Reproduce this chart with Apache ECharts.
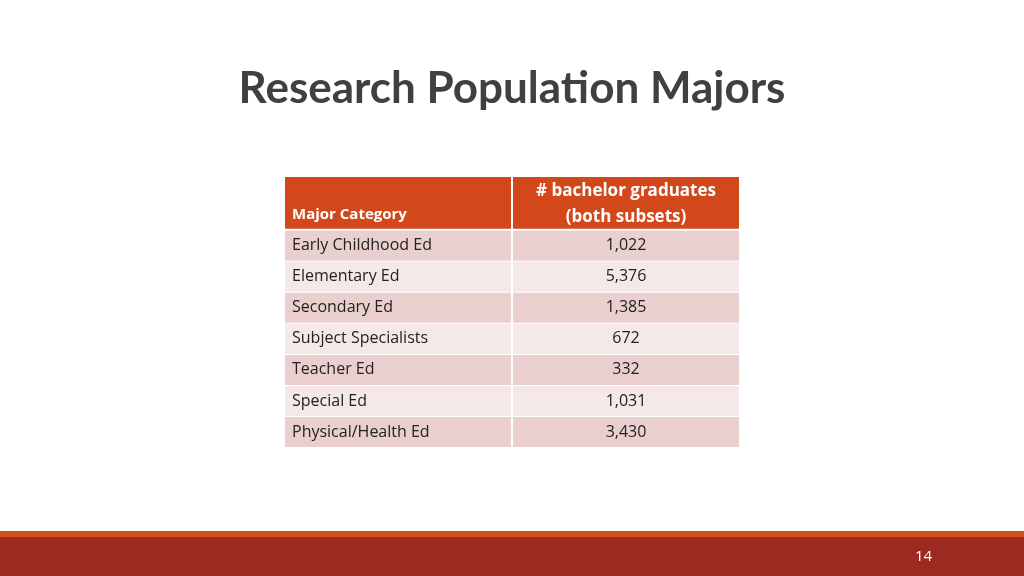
<!DOCTYPE html>
<html><head><meta charset="utf-8">
<script src="https://cdn.jsdelivr.net/npm/echarts@6/dist/echarts.min.js"></script>
<style>html,body{margin:0;background:#fff}#c{width:1024px;height:576px}</style>
</head><body><div id="c"></div>
<script>
const headers = ['Major Category', '# bachelor graduates\n(both subsets)'];
const categories = ['Early Childhood Ed','Elementary Ed','Secondary Ed','Subject Specialists','Teacher Ed','Special Ed','Physical/Health Ed'];
const graduates = [1022, 5376, 1385, 672, 332, 1031, 3430];
const HEAD = 1.7;
const cells = [];
headers.forEach((h, c) => cells.push([c, -1, h]));
categories.forEach((cat, r) => { cells.push([0, r, cat]); cells.push([1, r, graduates[r].toLocaleString('en-US')]); });
const FONT = '"Open Sans", "Noto Sans", sans-serif';
const chart = echarts.init(document.getElementById('c'));
chart.setOption({
  animation: false,
  title: { text: 'Research Population Majors', left: 'center', top: 62,
    textStyle: { fontFamily: 'Lato, "Open Sans", sans-serif', fontWeight: 'bold', fontSize: 44, color: '#404040' } },
  grid: { left: 285, right: 285, top: 177, height: 270 },
  xAxis: { type: 'value', min: 0, max: 2, show: false },
  yAxis: { type: 'value', min: 0, max: HEAD + categories.length, inverse: true, show: false },
  series: [{
    type: 'custom', data: cells,
    renderItem: function (params, api) {
      const c = api.value(0), r = api.value(1), txt = cells[params.dataIndex][2];
      const y0 = r < 0 ? 0 : HEAD + r, y1 = r < 0 ? HEAD : HEAD + r + 1;
      const p0 = api.coord([c, y0]), p1 = api.coord([c + 1, y1]);
      const x = p0[0] + (c ? 1 : 0), w = p1[0] - p0[0] - (c ? 1 : 1);
      const y = p0[1] + (r < 0 ? 0 : 1), h = p1[1] - p0[1] - (r < 0 ? 1 : 1);
      const fill = r < 0 ? '#D2481A' : (r % 2 === 0 ? '#EACFCF' : '#F5E8E8');
      const head = r < 0;
      return { type: 'group', children: [
        { type: 'rect', shape: { x: x, y: y, width: w, height: h }, style: { fill: fill } },
        { type: 'text', style: {
            text: txt, fontFamily: FONT, fontSize: head ? (c ? 17 : 15) : 16,
            fontWeight: head ? 'bold' : 'normal', fill: head ? '#fff' : '#222',
            lineHeight: 26,
            x: c ? x + w / 2 : x + 7,
            y: head && c === 0 ? y + h - 14 : y + h / 2 + (head ? 1 : 0),
            align: c ? 'center' : 'left', verticalAlign: 'middle' } }
      ]};
    }
  }],
  graphic: [
    { type: 'rect', left: 0, top: 531, shape: { width: 1024, height: 6 }, style: { fill: '#D2501E' } },
    { type: 'rect', left: 0, top: 537, shape: { width: 1024, height: 39 }, style: { fill: '#9C2A20' } },
    { type: 'text', left: 915, top: 549, style: { text: '14', fill: '#fff', fontSize: 15, fontFamily: FONT } }
  ]
});
</script></body></html>
